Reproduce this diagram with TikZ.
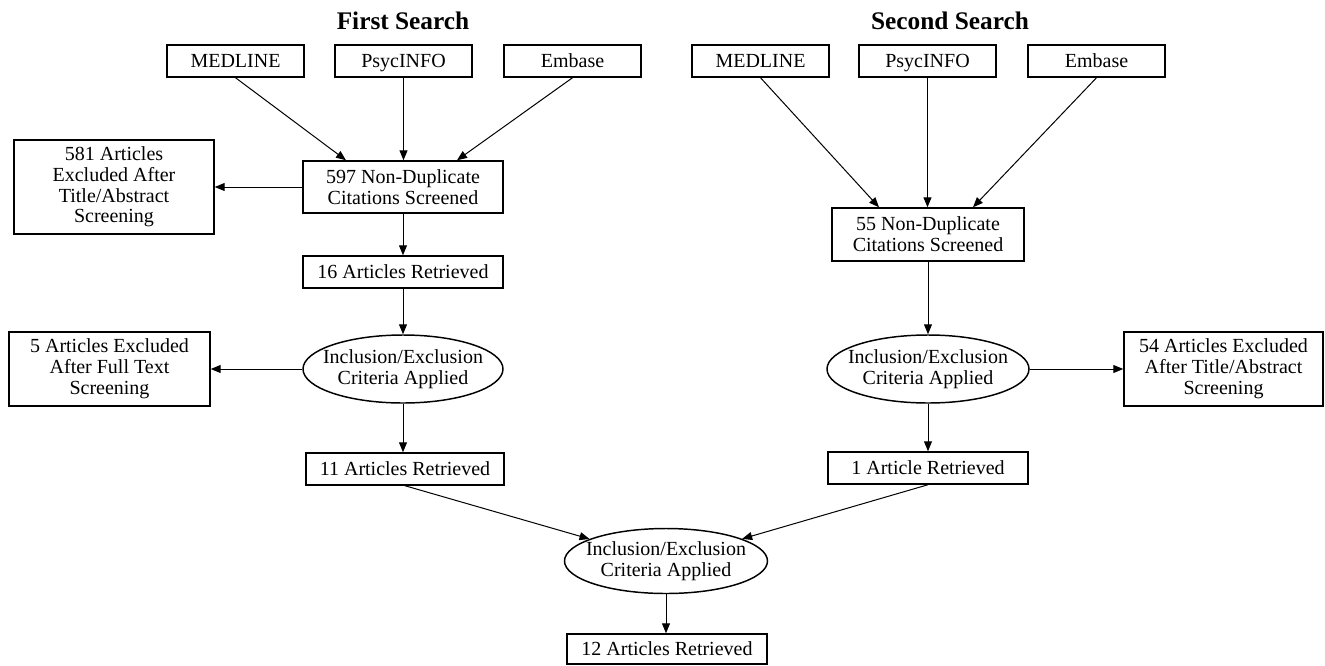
\documentclass[tikz,border=0pt]{standalone}
\usepackage{fontspec}
\setmainfont{Liberation Serif}
\usetikzlibrary{shapes.geometric,arrows.meta}
\begin{document}
\begin{tikzpicture}[x=0.75pt,y=-0.75pt,
  every node/.style={font=\fontsize{15}{15.6}\selectfont, align=center, inner sep=0pt},
  box/.style={draw, line width=1.1pt, rectangle},
  one/.style={text height=9.9pt, text depth=0pt},
  ell/.style={draw, line width=1.1pt, ellipse},
  title/.style={font=\fontsize{19}{22}\selectfont\bfseries},
  arr/.style={line width=0.75pt, -{Triangle[length=7.5pt,width=6pt]}}
]
\useasboundingbox (0,0) rectangle (1325,665);

% titles
\node[title] (t1) at (403,21) {First Search};
\node[title] (t2) at (950,21) {Second Search};

% databases
\node[box, one, minimum width=102.75pt, minimum height=24pt] (m1) at (235.5,61) {MEDLINE};
\node[box, one, minimum width=102.75pt, minimum height=24pt] (p1) at (403.5,61) {PsycINFO};
\node[box, one, minimum width=102.75pt, minimum height=24pt] (e1) at (572.5,61) {Embase};
\node[box, one, minimum width=102.75pt, minimum height=24pt] (m2) at (760.5,61) {MEDLINE};
\node[box, one, minimum width=102.75pt, minimum height=24pt] (p2) at (927.5,61) {PsycINFO};
\node[box, one, minimum width=102.75pt, minimum height=24pt] (e2) at (1096.5,61) {Embase};

% first search column
\node[box, minimum width=150pt, minimum height=39pt] (nd1) at (403,187) {597 Non-Duplicate\\Citations Screened};
\node[box, minimum width=150pt, minimum height=70.5pt] (x1) at (114,187) {581 Articles\\Excluded After\\Title/Abstract\\Screening};
\node[box, one, minimum width=150pt, minimum height=24pt] (r16) at (403,272) {16 Articles Retrieved};
\node[ell, minimum width=150pt, minimum height=51pt] (el1) at (403,369) {};
\node (el1t) at (el1) {Inclusion/Exclusion\\Criteria Applied};
\node[box, minimum width=150.75pt, minimum height=55.5pt] (x5) at (109.5,369) {5 Articles Excluded\\After Full Text\\Screening};
\node[box, one, minimum width=148.5pt, minimum height=24pt] (r11) at (405,469) {11 Articles Retrieved};

% second search column
\node[box, minimum width=144pt, minimum height=39.75pt] (nd2) at (928,234.5) {55 Non-Duplicate\\Citations Screened};
\node[ell, minimum width=151.5pt, minimum height=51pt] (el2) at (928,369) {};
\node (el2t) at (el2) {Inclusion/Exclusion\\Criteria Applied};
\node[box, minimum width=149.25pt, minimum height=55.5pt] (x54) at (1223.5,369) {54 Articles Excluded\\After Title/Abstract\\Screening};
\node[box, one, minimum width=150pt, minimum height=24pt] (r1) at (928,468) {1 Article Retrieved};

% final
\node[ell, minimum width=152.25pt, minimum height=48.75pt] (fe) at (666,561) {};
\node (fet) at (fe) {Inclusion/Exclusion\\Criteria Applied};
\node[box, one, minimum width=150pt, minimum height=22.5pt] (r12) at (667,649) {12 Articles Retrieved};

% connectors first search
\draw[arr] (m1.south) -- ([xshift=-42.75pt]nd1.north);
\draw[arr] (p1.south) -- (p1.south |- nd1.north);
\draw[arr] (e1.south) -- ([xshift=40.5pt]nd1.north);
\draw[arr] (nd1.west) -- (x1.east);
\draw[arr] (nd1.south) -- (r16.north);
\draw[arr] (r16.south) -- (el1.north);
\draw[arr] (el1.west) -- (x5.east);
\draw[arr] (el1.south) -- (el1.south |- r11.north);

% connectors second search
\draw[arr] (m2.south) -- ([xshift=-36.75pt]nd2.north);
\draw[arr] (p2.south) -- (p2.south |- nd2.north);
\draw[arr] (e2.south) -- ([xshift=33.75pt]nd2.north);
\draw[arr] (nd2.south) -- (el2.north);
\draw[arr] (el2.east) -- (x54.west);
\draw[arr] (el2.south) -- (r1.north);

% final
\draw[arr] (r11.south) -- (fe);
\draw[arr] (r1.south) -- (fe);
\draw[arr] (fe.south) -- (fe.south |- r12.north);
\end{tikzpicture}
\end{document}
